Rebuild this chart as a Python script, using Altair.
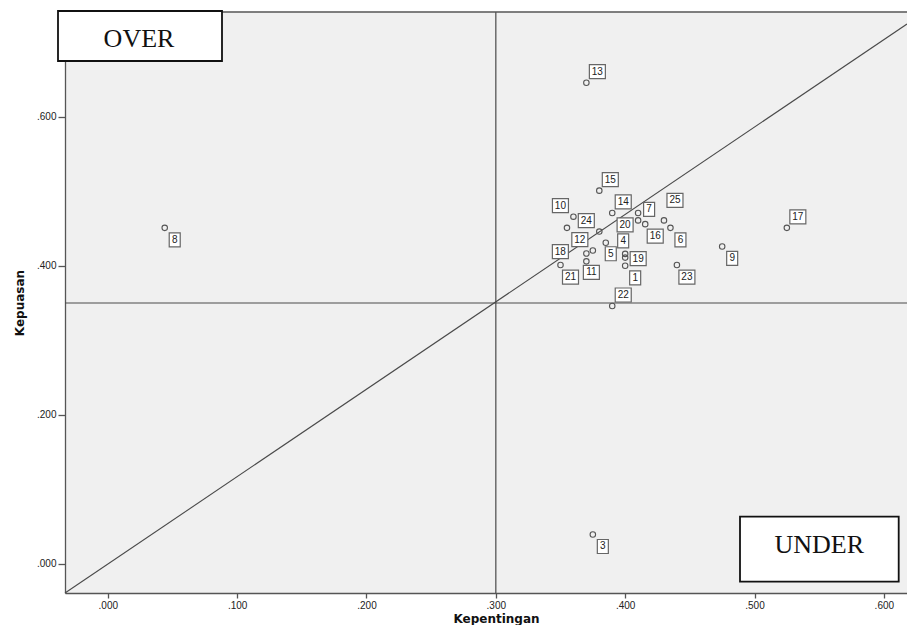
import altair as alt
import pandas as pd

# ---------------- data ----------------
point_ids = [str(i) for i in range(1, 26)]
kepentingan = [0.400, 0.355, 0.375, 0.400, 0.385, 0.435, 0.410, 0.044, 0.475, 0.360,
               0.370, 0.375, 0.370, 0.390, 0.380, 0.4155, 0.525, 0.370, 0.400, 0.410,
               0.350, 0.390, 0.440, 0.380, 0.430]
kepuasan = [0.400, 0.451, 0.039, 0.416, 0.431, 0.451, 0.461, 0.451, 0.426, 0.466,
            0.406, 0.4205, 0.646, 0.471, 0.501, 0.456, 0.451, 0.4165, 0.411, 0.471,
            0.401, 0.346, 0.401, 0.446, 0.461]
# where each point's id label sits relative to the point ("none" = label hidden)
label_place = ["lr", "none", "lr", "u", "b", "lr", "ur", "lr", "lr", "ul",
               "b", "ul", "ur", "ur", "ur", "lr", "ur", "l", "r", "ll",
               "lr", "ur", "lr", "ul", "uu"]

mean_kepentingan = 0.300
mean_kepuasan = 0.350
diag_x = [-0.0331, 0.6179]
diag_y = [-0.0396, 0.7249]

x_domain = [-0.0331, 0.6179]
y_domain = [-0.0396, 0.741]
x_ticks = [0.0, 0.1, 0.2, 0.3, 0.4, 0.5, 0.6]
y_ticks = [0.0, 0.2, 0.4, 0.6]
quadrant_texts = ["OVER", "UNDER"]

# ---------------- styles ----------------
W, H = 842, 581
LINE = "#4a4a4a"
AXIS = "#555555"
OFFS = {"ur": (11, -11), "lr": (10, 12), "ul": (-13, -11), "ll": (-13, 12),
        "uu": (11, -20), "b": (5, 11), "l": (-26, -2), "u": (-2, -13), "r": (13, 1)}
BOX1 = "M-0.786,-1L0.786,-1L0.786,1L-0.786,1Z"
BOX2 = "M-1.143,-1L1.143,-1L1.143,1L-1.143,1Z"

df = pd.DataFrame({"kepentingan": kepentingan, "kepuasan": kepuasan,
                   "lab": point_ids, "place": label_place})
df["nd"] = df["lab"].str.len().astype(str)
diag_df = pd.DataFrame({"kepentingan": diag_x, "kepuasan": diag_y})
one_df = pd.DataFrame({"k": [0]})
over_df = pd.DataFrame({"t": [quadrant_texts[0]]})
under_df = pd.DataFrame({"t": [quadrant_texts[1]]})

x_axis = alt.Axis(values=x_ticks, labelExpr="substring(format(datum.value, '.3f'), 1)",
                  title="Kepentingan", grid=False, domainColor=AXIS, domainWidth=1.3,
                  tickColor=AXIS, tickWidth=1.3, tickSize=5, labelPadding=2,
                  labelFont="Liberation Sans", labelFontSize=10, labelColor="#222222",
                  labelFlush=False, labelOverlap=False,
                  titleFont="DejaVu Sans", titleFontSize=12, titleFontWeight="bold",
                  titleColor="#111111", titleX=431, titleY=29,
                  titleBaseline="alphabetic", titleAlign="center")
y_axis = alt.Axis(values=y_ticks, labelExpr="substring(format(datum.value, '.3f'), 1)",
                  title="Kepuasan", grid=False, domainColor=AXIS, domainWidth=1.3,
                  tickColor=AXIS, tickWidth=1.3, tickSize=7, labelPadding=2,
                  labelFont="Liberation Sans", labelFontSize=10, labelColor="#222222",
                  labelFlush=False, labelOverlap=False,
                  titleFont="DejaVu Sans", titleFontSize=12, titleFontWeight="bold",
                  titleColor="#111111", titleAngle=270, titleX=-41.7, titleY=290.5,
                  titleBaseline="alphabetic", titleAlign="center")

X = alt.X("kepentingan:Q", scale=alt.Scale(domain=x_domain, nice=False, zero=False), axis=x_axis)
Y = alt.Y("kepuasan:Q", scale=alt.Scale(domain=y_domain, nice=False, zero=False), axis=y_axis)

base = alt.Chart(df).encode(x=X, y=Y)

diag = alt.Chart(diag_df).mark_line(color=LINE, strokeWidth=1.1).encode(x=X, y=Y)
vline = alt.Chart(one_df).mark_rule(color=LINE, strokeWidth=1.2).encode(x=alt.X(datum=mean_kepentingan))
hline = alt.Chart(one_df).mark_rule(color=LINE, strokeWidth=1.2).encode(y=alt.Y(datum=mean_kepuasan))
topline = alt.Chart(one_df).mark_rule(color=AXIS, strokeWidth=1.3).encode(
    x=alt.value(0), x2=alt.value(W), y=alt.value(0))

points = base.mark_point(shape="circle", size=30, filled=False, color="#555555",
                         strokeWidth=1.1, opacity=1)

layers = [diag, vline, hline, topline, points]
for code, (dx, dy) in OFFS.items():
    sub = base.transform_filter(alt.datum.place == code)
    box = sub.mark_point(filled=True, fill="white", stroke="#666666", strokeWidth=1.2,
                         opacity=1, size=196, xOffset=dx, yOffset=dy).encode(
        shape=alt.Shape("nd:N", scale=alt.Scale(domain=["1", "2"], range=[BOX1, BOX2]), legend=None))
    txt = sub.mark_text(dx=dx, dy=dy, fontSize=10, font="Liberation Sans", color="#222222",
                        baseline="middle", align="center").encode(text="lab:N")
    layers += [box, txt]

# quadrant annotation boxes
over_box = alt.Chart(over_df).mark_rect(fill="white", stroke="#111111", strokeWidth=1.8).encode(
    x=alt.value(-7), x2=alt.value(157), y=alt.value(-1), y2=alt.value(49))
over_txt = alt.Chart(over_df).mark_text(font="Liberation Serif", fontSize=26, color="#111111",
                                        align="center", baseline="alphabetic").encode(
    x=alt.value(74), y=alt.value(35.3), text="t:N")
under_box = alt.Chart(under_df).mark_rect(fill="white", stroke="#111111", strokeWidth=1.8).encode(
    x=alt.value(675), x2=alt.value(833.7), y=alt.value(504.7), y2=alt.value(569.7))
under_txt = alt.Chart(under_df).mark_text(font="Liberation Serif", fontSize=26, color="#111111",
                                          align="center", baseline="alphabetic").encode(
    x=alt.value(754.2), y=alt.value(540.7), text="t:N")
layers += [over_box, over_txt, under_box, under_txt]

chart = alt.layer(*layers).properties(
    width=W, height=H,
    autosize=alt.AutoSizeParams(type="none"),
    padding={"left": 57, "top": 4, "right": 0, "bottom": 32},
    background="white",
).configure_view(fill="#f0f0f0", stroke="transparent")

chart.save("out.html", embed_options={"renderer": "svg", "actions": False})
